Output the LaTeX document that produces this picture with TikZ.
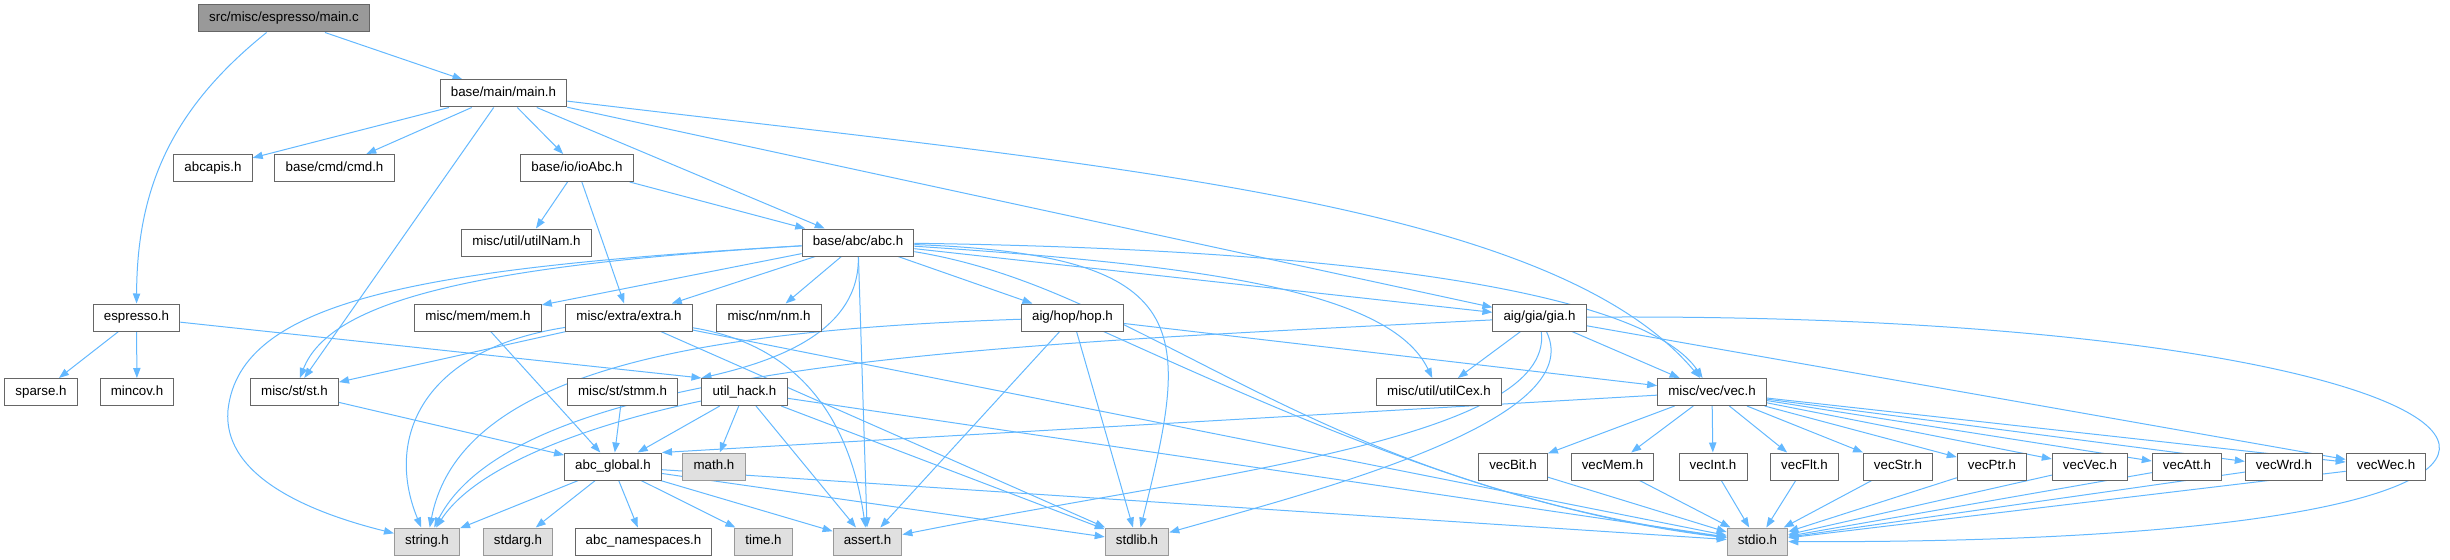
\documentclass[tikz,border=0pt]{standalone}
\usepackage{fontspec}
\setmainfont{Liberation Sans}
\usetikzlibrary{arrows.meta}
\definecolor{incblue}{HTML}{63B8FF}
\pgfdeclarelayer{background}
\pgfsetlayers{background,main}

\begin{document}
\begin{tikzpicture}[x=0.75pt,y=-0.75pt,
  header/.style={draw=black!60,fill=white,line width=0.75pt,minimum height=20.25pt,
    inner xsep=8pt,inner ysep=0pt,text height=7.2pt,text depth=2.1pt,
    font=\fontsize{10}{12}\selectfont},
  sysheader/.style={header,draw=black!40,fill=black!12},
  root/.style={header,fill=black!40},
  inc/.style={draw=incblue,line width=0.75pt,-{Triangle[length=7.5pt,width=5.5pt]}}]

  \useasboundingbox (0,0) rectangle (2450,560);

  % Nodes

  \node[root]      (mainc)      at (284,18.5)    {src/misc/espresso/main.c} ; %
  \node[header]    (mainh)      at (503.5,93.5)  {base/main/main.h} ; %

  \node[header]    (abcapis)    at (213,168)     {abcapis.h} ; %
  \node[header]    (cmd)        at (334.5,168)   {base/cmd/cmd.h} ; %
  \node[header]    (ioAbc)      at (577,168)     {base/io/ioAbc.h} ; %

  \node[header]    (utilNam)    at (526.5,242.5) {misc/util/utilNam.h} ; %
  \node[header]    (abc)        at (858,242.5)   {base/abc/abc.h} ; %

  \node[header]    (espresso)   at (136.5,317.5) {espresso.h} ; %
  \node[header]    (mem)        at (478,317.5)   {misc/mem/mem.h} ; %
  \node[header]    (extra)      at (629,317.5)   {misc/extra/extra.h} ; %
  \node[header]    (nm)         at (769,317.5)   {misc/nm/nm.h} ; %
  \node[header]    (hop)        at (1072.5,317.5){aig/hop/hop.h} ; %
  \node[header]    (gia)        at (1539.5,317.5){aig/gia/gia.h} ; %

  \node[header]    (sparse)     at (41,392)      {sparse.h} ; %
  \node[header]    (mincov)     at (137,392)     {mincov.h} ; %
  \node[header]    (st)         at (294.5,392)   {misc/st/st.h} ; %
  \node[header]    (stmm)       at (622.5,392)   {misc/st/stmm.h} ; %
  \node[header]    (utilHack)   at (744.5,392)   {util\_hack.h} ; %
  \node[header]    (utilCex)    at (1439,392)    {misc/util/utilCex.h} ; %
  \node[header]    (vec)        at (1712,392)    {misc/vec/vec.h} ; %

  \node[header]    (abcGlobal)  at (613,466.5)   {abc\_global.h} ; %
  \node[sysheader] (math)       at (714,466.5)   {math.h} ; %
  \node[header]    (vecBit)     at (1513,466.5)  {vecBit.h} ; %
  \node[header]    (vecMem)     at (1612.5,466.5){vecMem.h} ; %
  \node[header]    (vecInt)     at (1713,466.5)  {vecInt.h} ; %
  \node[header]    (vecFlt)     at (1804.5,466.5){vecFlt.h} ; %
  \node[header]    (vecStr)     at (1898,466.5)  {vecStr.h} ; %
  \node[header]    (vecPtr)     at (1992,466.5)  {vecPtr.h} ; %
  \node[header]    (vecVec)     at (2090,466.5)  {vecVec.h} ; %
  \node[header]    (vecAtt)     at (2187,466.5)  {vecAtt.h} ; %
  \node[header]    (vecWrd)     at (2284,466.5)  {vecWrd.h} ; %
  \node[header]    (vecWec)     at (2386,466.5)  {vecWec.h} ; %

  \node[sysheader] (string)     at (427,541.5)   {string.h} ; %
  \node[sysheader] (stdarg)     at (518,541.5)   {stdarg.h} ; %
  \node[header]    (namespaces) at (643.5,541.5) {abc\_namespaces.h} ; %
  \node[sysheader] (time)       at (763.5,541.5) {time.h} ; %
  \node[sysheader] (assert)     at (867.5,541.5) {assert.h} ; %
  \node[sysheader] (stdlib)     at (1137,541.5)  {stdlib.h} ; %
  \node[sysheader] (stdio)      at (1757.5,541.5){stdio.h} ; %

  % Includes

  \begin{pgfonlayer}{background}
  \draw[inc] (mainc) -- (mainh);
  \draw[inc] (mainc) .. controls (170,110) and (137,190) .. (espresso);

  \draw[inc] (mainh) -- (abcapis);
  \draw[inc] (mainh) -- (cmd);
  \draw[inc] (mainh) -- (ioAbc);
  \draw[inc] (mainh) -- (abc);
  \draw[inc] (mainh) -- (st);
  \draw[inc] (mainh) -- (gia);
  \draw[inc] (mainh) .. controls (1100,165) and (1550,200) .. (vec);

  \draw[inc] (ioAbc) -- (utilNam);
  \draw[inc] (ioAbc) -- (abc);
  \draw[inc] (ioAbc) -- (extra);

  \draw[inc] (espresso) -- (sparse);
  \draw[inc] (espresso) -- (mincov);
  \draw[inc] (espresso) -- (utilHack.north west);

  \draw[inc] (abc) .. controls (480,265) and (330,300) .. (st);
  \draw[inc] (abc) .. controls (420,268) and (240,300) .. (228,410)
                   .. controls (222,480) and (320,515) .. (string);
  \draw[inc] (abc) -- (mem);
  \draw[inc] (abc) -- (extra);
  \draw[inc] (abc) -- (nm);
  \draw[inc] (abc) -- (hop);
  \draw[inc] (abc) -- (gia);
  \draw[inc] (abc) -- (assert);
  \draw[inc] (abc) .. controls (860,330) and (780,360) .. (utilHack.north west);
  \draw[inc] (abc) .. controls (1200,255) and (1190,330) .. (stdlib);
  \draw[inc] (abc) .. controls (1150,290) and (1300,480) .. (stdio);
  \draw[inc] (abc) .. controls (1200,265) and (1390,290) .. (utilCex);
  \draw[inc] (abc) .. controls (1400,250) and (1650,300) .. (vec);

  \draw[inc] (extra) -- (st);
  \draw[inc] (extra) .. controls (420,350) and (385,440) .. (string);
  \draw[inc] (extra) .. controls (800,345) and (850,420) .. (assert);
  \draw[inc] (extra) -- (stdlib);
  \draw[inc] (extra) -- (stdio);

  \draw[inc] (mem) -- (abcGlobal);
  \draw[inc] (st) -- (abcGlobal);
  \draw[inc] (stmm) -- (abcGlobal);
  \draw[inc] (vec) -- (abcGlobal.north east);

  \draw[inc] (utilHack) -- (math);
  \draw[inc] (utilHack) -- (abcGlobal);
  \draw[inc] (utilHack) .. controls (610,420) and (480,460) .. (string);
  \draw[inc] (utilHack) -- (assert);
  \draw[inc] (utilHack) -- (stdlib);
  \draw[inc] (utilHack) -- (stdio);

  \draw[inc] (hop) .. controls (700,330) and (460,370) .. (string);
  \draw[inc] (hop) -- (vec);
  \draw[inc] (hop) -- (assert);
  \draw[inc] (hop) -- (stdlib);
  \draw[inc] (hop) .. controls (1300,420) and (1500,510) .. (stdio);

  \draw[inc] (gia) .. controls (1000,345) and (520,360) .. (string);
  \draw[inc] (gia) .. controls (1555,440) and (1200,475) .. (assert);
  \draw[inc] (gia) .. controls (1590,420) and (1320,490) .. (stdlib);
  \draw[inc] (gia) .. controls (2550,310) and (2800,545) .. (stdio);
  \draw[inc] (gia) -- (utilCex);
  \draw[inc] (gia) -- (vec);
  \draw[inc] (gia) -- (vecWec);

  \draw[inc] (vec) -- (vecBit);
  \draw[inc] (vec) -- (vecMem);
  \draw[inc] (vec) -- (vecInt);
  \draw[inc] (vec) -- (vecFlt);
  \draw[inc] (vec) -- (vecStr);
  \draw[inc] (vec) -- (vecPtr);
  \draw[inc] (vec) -- (vecVec);
  \draw[inc] (vec) -- (vecAtt);
  \draw[inc] (vec) -- (vecWrd);
  \draw[inc] (vec) -- (vecWec);

  \draw[inc] (vecBit) -- (stdio);
  \draw[inc] (vecMem) -- (stdio);
  \draw[inc] (vecInt) -- (stdio);
  \draw[inc] (vecFlt) -- (stdio);
  \draw[inc] (vecStr) -- (stdio);
  \draw[inc] (vecPtr) -- (stdio);
  \draw[inc] (vecVec) -- (stdio);
  \draw[inc] (vecAtt) -- (stdio);
  \draw[inc] (vecWrd) -- (stdio);
  \draw[inc] (vecWec) -- (stdio);

  \draw[inc] (abcGlobal) -- (string);
  \draw[inc] (abcGlobal) -- (stdarg);
  \draw[inc] (abcGlobal) -- (namespaces);
  \draw[inc] (abcGlobal) -- (time);
  \draw[inc] (abcGlobal) -- (assert);
  \draw[inc] (abcGlobal) -- (stdlib);
  \draw[inc] (abcGlobal) -- (stdio);
  \end{pgfonlayer}

\end{tikzpicture}
\end{document}
